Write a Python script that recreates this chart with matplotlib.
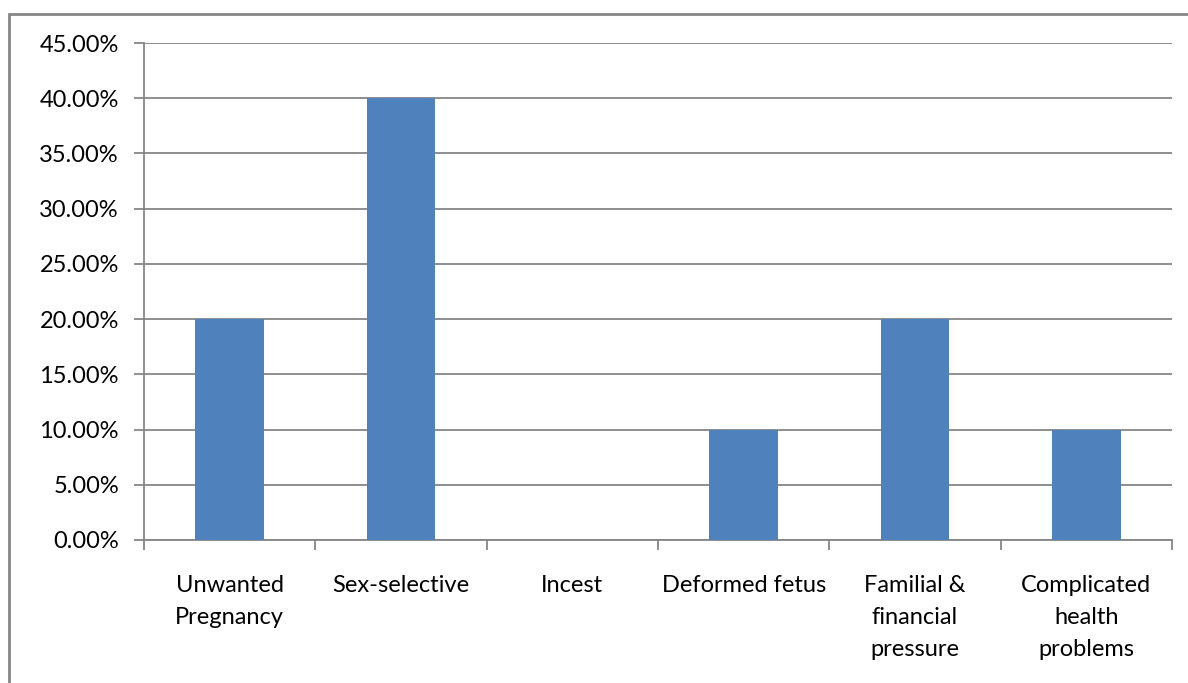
import numpy as np
import matplotlib.pyplot as plt
from matplotlib.patches import Rectangle
from matplotlib.ticker import PercentFormatter, FixedLocator

# Motivos citados para o aborto (proporção de respostas)
categorias = ["Unwanted\nPregnancy", "Sex-selective", "Incest", "Deformed fetus",
              "Familial &\nfinancial\npressure", "Complicated\nhealth\nproblems"]
valores = [20.0, 40.0, 0.0, 10.0, 20.0, 10.0]

plt.rcParams['font.family'] = ['Lato', 'DejaVu Sans']

cinza = '#868686'
azul = '#4F81BD'

fig = plt.figure(figsize=(11.88, 6.83), dpi=100)
ax = fig.add_axes([144/1188, 1 - 540/683, (1172 - 144)/1188, (540 - 43)/683])

# moldura do gráfico (só aparecem a borda esquerda e a de cima)
fig.patches.append(Rectangle((9/1188, -0.1), 1.2, 1.1 - 14/683,
                             transform=fig.transFigure, fill=False,
                             edgecolor=cinza, linewidth=2))

x = np.arange(len(categorias))
ax.bar(x, valores, width=0.4, color=azul, zorder=3)

ax.set_xlim(-0.5, len(categorias) - 0.5)
ax.set_ylim(0, 45)
ax.set_yticks(np.arange(0, 46, 5))
ax.yaxis.set_major_formatter(PercentFormatter(decimals=2))
ax.grid(axis='y', color=cinza, linewidth=1.3, zorder=0)

ax.set_xticks(x)
ax.set_xticklabels(categorias, fontsize=17, linespacing=1.66, va='top')
ax.xaxis.set_minor_locator(FixedLocator(np.arange(-0.5, len(categorias), 1)))
ax.tick_params(axis='x', which='major', length=0, pad=25)
ax.tick_params(axis='x', which='minor', length=7, width=1.3, color=cinza, direction='out')
ax.tick_params(axis='y', length=7, width=1.3, color=cinza, labelsize=17, pad=11)

for lado in ['top', 'right']:
    ax.spines[lado].set_visible(False)
for lado in ['left', 'bottom']:
    ax.spines[lado].set_color(cinza)
    ax.spines[lado].set_linewidth(1.3)

fig.savefig('out.png', dpi=100)
